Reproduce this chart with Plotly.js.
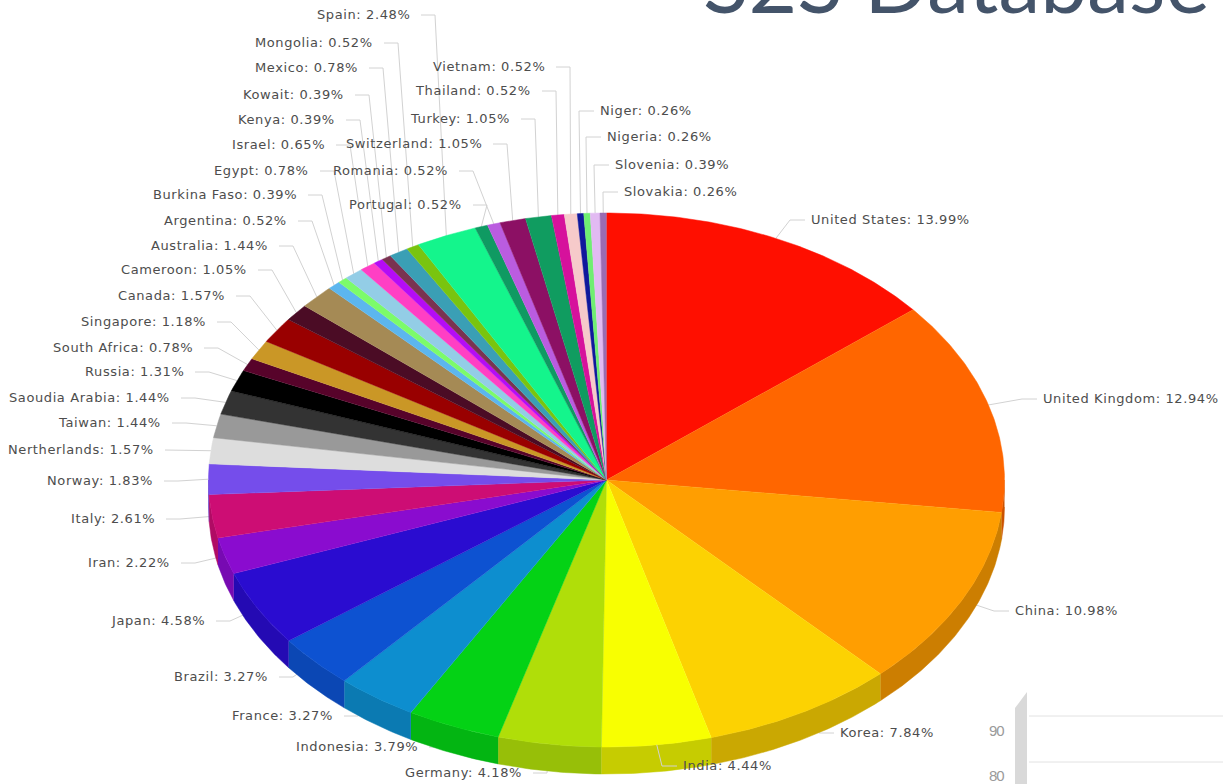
<!DOCTYPE html>
<html>
<head>
<meta charset="utf-8">
<script src="https://cdn.plot.ly/plotly-3.0.1.min.js"></script>
<style>html,body{margin:0;padding:0;background:#fff;overflow:hidden}#chart{width:1223px;height:784px}</style>
</head>
<body>
<div id="chart"></div>
<script>
// Share of records per country, clockwise from twelve o'clock.
const countries = ["United States","United Kingdom","China","Korea","India","Germany","Indonesia","France","Brazil","Japan","Iran","Italy","Norway","Nertherlands","Taiwan","Saoudia Arabia","Russia","South Africa","Singapore","Canada","Cameroon","Australia","Argentina","Burkina Faso","Egypt","Israel","Kenya","Kowait","Mexico","Mongolia","Spain","Portugal","Romania","Switzerland","Turkey","Thailand","Vietnam","Niger","Nigeria","Slovenia","Slovakia"];
const shares = [13.99,12.94,10.98,7.84,4.44,4.18,3.79,3.27,3.27,4.58,2.22,2.61,1.83,1.57,1.44,1.44,1.31,0.78,1.18,1.57,1.05,1.44,0.52,0.39,0.78,0.65,0.39,0.39,0.78,0.52,2.48,0.52,0.52,1.05,1.05,0.52,0.52,0.26,0.26,0.39,0.26];
const sliceColors = ["#FF0F00","#FF6600","#FF9E01","#FCD202","#F8FF01","#B0DE09","#04D215","#0D8ECF","#0D52D1","#2A0CD0","#8A0CCF","#CD0D74","#754DEB","#DDDDDD","#999999","#333333","#000000","#57032A","#CA9726","#990000","#4B0C25","#A58A55","#5CB6EE","#7CFB6A","#93CDE6","#FF3FC4","#B50CF5","#7A3350","#3A9FB5","#79C40F","#14F58C","#0F9A62","#BA5CE0","#8C1064","#109C60","#D6119C","#F6CACA","#10189C","#6FEE72","#E2BAF2","#9A6CB2"];

// Text anchor of each label: side of the text facing the pie, and its row.
const labelEdgeX = [811,1043,1015,840,683,522,418,333,268,205,170,155,153,154,161,170,184,193,206,225,247,268,287,297,309,325,335,344,358,373,410,462,448,482,510,531,545,600,607,615,624];
const labelRowY = [220,399,611,733,766,773,747,716,677,621,563,519,481,450,423,398,372,348,322,296,270,246,221,195,171,145,120,95,68,43,15,205,171,144,119,91,67,111,137,165,192];
const labelOpensRight = [1,1,1,1,1,0,0,0,0,0,0,0,0,0,0,0,0,0,0,0,0,0,0,0,0,0,0,0,0,0,0,0,0,0,0,0,0,1,1,1,1];

// Fragment of the neighbouring panel in the lower right corner.
const neighbourTicks = ["90","80"];
const neighbourTickY = [730,775];
const neighbourGridY = [716,762];

const pageTitle = "S2S Database";

// Pie geometry in page pixels.
const cx = 606.5, cy = 480, rx = 398, ry = 267, depth = 27;
const total = shares.reduce((a, b) => a + b, 0);

function rim(deg, drop) {
  const t = deg * Math.PI / 180;
  return [cx + rx * Math.sin(t), cy - ry * Math.cos(t) + (drop || 0)];
}
function darker(hex, f) {
  const n = parseInt(hex.slice(1), 16);
  const c = [n >> 16, (n >> 8) & 255, n & 255].map(v => Math.round(v * f));
  return `rgb(${c.join(",")})`;
}
function arc(a, b, drop) {
  const steps = Math.max(2, Math.ceil((b - a) / 0.5));
  const pts = [];
  for (let i = 0; i <= steps; i++) pts.push(rim(a + (b - a) * i / steps, drop));
  return pts;
}
function polygon(pts, color, name) {
  return {
    type: "scatter", mode: "lines", x: pts.map(p => p[0]), y: pts.map(p => p[1]),
    fill: "toself", fillcolor: color, line: {color: color, width: 0.5},
    hoverinfo: "text", text: name, showlegend: false
  };
}

const walls = [], tops = [], leaders = [], frontLeaders = [], annotations = [];
let running = 0;
shares.forEach((share, i) => {
  const a = running / total * 360;
  const b = (running + share) / total * 360;
  const mid = (a + b) / 2;
  running += share;

  // The side wall only shows along the front half of the rim.
  const wa = Math.max(a, 90), wb = Math.min(b, 270);
  if (wb > wa) {
    const front = arc(wa, wb, 0).concat(arc(wa, wb, depth).reverse());
    walls.push(polygon(front, darker(sliceColors[i], mid > 180 ? 0.86 : 0.8), countries[i]));
  }
  tops.push(polygon([[cx, cy]].concat(arc(a, b, 0)), sliceColors[i], countries[i]));

  // Leader: short horizontal stub at the label, then straight to the rim.
  const right = labelOpensRight[i] === 1;
  const edge = labelEdgeX[i], row = labelRowY[i];
  const stubStart = right ? edge - 6 : edge + 11;
  const elbow = right ? edge - 21 : edge + 25;
  const tip = rim(mid, 0);
  const leader = {
    type: "scatter", mode: "lines", x: [stubStart, elbow, tip[0]], y: [row, row, tip[1]],
    line: {color: "#d2d2d2", width: 1}, hoverinfo: "skip", showlegend: false
  };
  (countries[i] === "India" ? frontLeaders : leaders).push(leader);

  annotations.push({
    xref: "x", yref: "y", x: edge, y: row, showarrow: false,
    xanchor: right ? "left" : "right", yanchor: "middle",
    xshift: right ? -2 : 2, yshift: 1,
    text: `<span style="letter-spacing:.6px">${countries[i]}: ${share.toFixed(2)}%</span>`,
    font: {family: "DejaVu Sans, Verdana, sans-serif", size: 13, color: "#4d4d4d"}
  });
});

neighbourTicks.forEach((t, i) => annotations.push({
  xref: "x", yref: "y", x: 1006, y: neighbourTickY[i], showarrow: false,
  xanchor: "right", yanchor: "middle",
  text: `<span style="letter-spacing:-1.2px">${t}</span>`,
  font: {family: "Liberation Sans, sans-serif", size: 15, color: "#9a9a9a"}
}));

annotations.push({
  xref: "x", yref: "y", x: 956, y: 15, showarrow: false,
  xanchor: "center", yanchor: "bottom", yshift: -18, text: pageTitle,
  font: {family: "Lato, Open Sans, sans-serif", size: 84, color: "#44546A"}
});

const shapes = [{
  type: "path", xref: "x", yref: "y", layer: "below",
  path: "M1015 708 L1027 692 L1027 784 L1015 784 Z",
  fillcolor: "#d9d9d9", line: {width: 0}
}].concat(neighbourGridY.map(y => ({
  type: "line", xref: "x", yref: "y", layer: "below",
  x0: 1029, x1: 1223, y0: y, y1: y, line: {color: "#e2e2e2", width: 1}
})));

const layout = {
  width: 1223, height: 784,
  margin: {l: 0, r: 0, t: 0, b: 0},
  paper_bgcolor: "#ffffff", plot_bgcolor: "#ffffff",
  showlegend: false,
  xaxis: {range: [0, 1223], visible: false, fixedrange: true},
  yaxis: {range: [784, 0], visible: false, fixedrange: true},
  annotations, shapes
};

Plotly.newPlot("chart", leaders.concat(walls, tops, frontLeaders), layout, {displayModeBar: false, staticPlot: true});
</script>
</body>
</html>
